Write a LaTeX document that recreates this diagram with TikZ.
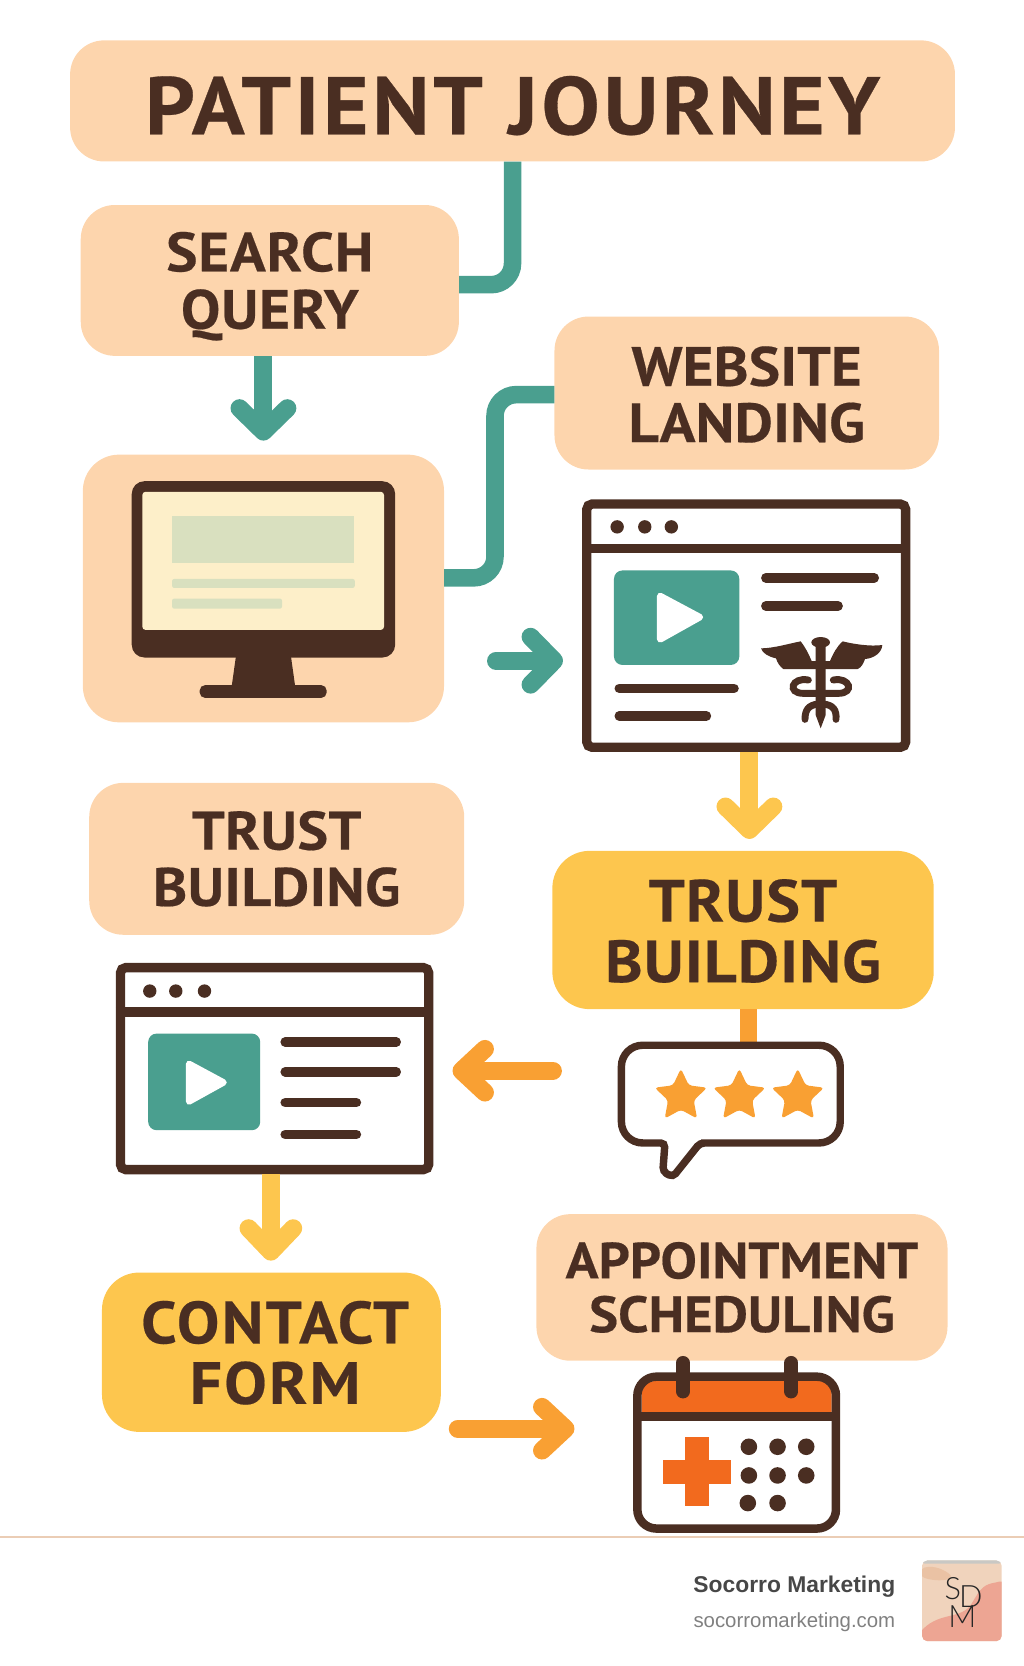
\documentclass[tikz,border=0pt]{standalone}
\usepackage{fontspec}
\setmainfont{PT Sans}
\newfontfamily\footfont{Liberation Sans}
\newfontfamily\logofont{Lato Light}
\usetikzlibrary{arrows.meta}
\usetikzlibrary{shapes.geometric}
\definecolor{peach}{HTML}{FDD5AD}
\definecolor{ink}{HTML}{4A2E22}
\definecolor{tealc}{HTML}{4A9F8F}
\definecolor{gold}{HTML}{FDC64E}
\definecolor{amber}{HTML}{F9A033}
\definecolor{flame}{HTML}{F26A1E}
\definecolor{cream}{HTML}{FDEFC9}
\definecolor{sage}{HTML}{D9E0BF}
\definecolor{rulec}{HTML}{EBCDB5}
\definecolor{washA}{HTML}{F0D3BC}
\definecolor{washB}{HTML}{EDA593}
\definecolor{washC}{HTML}{B9C4C8}
\definecolor{washD}{HTML}{E9BE9E}
\newcommand{\lift}[1]{\rule{0pt}{#1pt}}
\begin{document}
\begin{tikzpicture}[
    x=1pt, y=-1pt,
    stepbox/.style={
        fill=peach,
        rounded corners=32pt,
        inner sep=0pt,
        align=center,
        text=ink
    },
    boxtext/.style n args={3}{font=\bfseries\fontsize{#1}{#2}\selectfont\addfontfeatures{LetterSpace=#3,FakeStretch=1.07,FakeBold=0.35}},
    goldbox/.style={stepbox, fill=gold},
    pagebox/.style={draw=ink, line width=8.8pt, fill=white, rounded corners=5pt, inner sep=0pt},
    pipe/.style={line width=16.5pt, rounded corners=20pt},
    flow/.style={line width=17pt, -{Straight Barb[round,length=22pt,width=#1pt]}},
    flow/.default=45,
    textbar/.style={ink, line width=9pt, line cap=round},
    dot/.style={fill=ink, circle, inner sep=0pt, minimum size=12.6pt},
    calDot/.style={fill=ink, circle, inner sep=0pt, minimum size=15.6pt},
    starmark/.style={star, star points=5, star point ratio=2.05, fill=amber, inner sep=0pt, minimum size=52pt, rounded corners=3pt}
]
\useasboundingbox (0,0) rectangle (964,1568.4);

% boxes
\node[stepbox, boxtext={77}{78}{4.3}, minimum width=833pt, minimum height=114pt] (title) at (482.5,95) {\lift{64}PATIENT JOURNEY};
\node[stepbox, boxtext={52}{54}{1.5}, minimum width=356pt, minimum height=142pt] (search) at (254,264) {\lift{48}SEARCH\\QUERY};
\node[stepbox, rounded corners=34pt, minimum width=340pt, minimum height=252pt] (monitorbox) at (248,554) {};
\node[stepbox, boxtext={52}{53}{0.3}, minimum width=362pt, minimum height=144pt] (website) at (703,370) {\lift{40}WEBSITE\\LANDING};
\node[stepbox, boxtext={51}{53}{0.8}, minimum width=353pt, minimum height=143pt] (trustpeach) at (260.5,808.5) {TRUST\\BUILDING};
\node[goldbox, boxtext={56}{57}{1.8}, rounded corners=35pt, minimum width=359pt, minimum height=149pt] (trustgold) at (699.5,875.5) {\lift{42}TRUST\\BUILDING};
\node[goldbox, boxtext={56}{57}{3.7}, rounded corners=35pt, minimum width=319pt, minimum height=150pt] (contact) at (255.5,1273) {\lift{41}\hspace*{7pt}CONTACT\\\hspace*{7pt}FORM};
\node[stepbox, boxtext={48}{50.6}{0}, minimum width=387pt, minimum height=138pt] (appoint) at (698.5,1212) {APPOINTMENT\\SCHEDULING};

% connectors
\coordinate (riser) at (466,458);
\coordinate (tealstart) at (467,622);
\coordinate (amberstart) at (520.5,1008);
\coordinate (formstart) at (431,1345);
\node[pagebox, minimum width=300.2pt, minimum height=229pt] (browserA) at (702.5,589) {};
\node[pagebox, minimum width=290.2pt, minimum height=190.2pt] (browserB) at (258.5,1006) {};
\node[fill=white, rounded corners=18pt, inner sep=0pt, minimum width=187pt, minimum height=143pt] (calendar) at (693.5,1367.5) {};
\draw[tealc, pipe] (title.south) |- ([yshift=-4pt]search.east);
\draw[tealc, pipe] ([yshift=10pt]monitorbox.east) -| (riser) |- ([yshift=-1.5pt]website.west);
\draw[tealc, flow, shorten >=13pt] (monitorbox.north |- search.south) -- (monitorbox.north);
\draw[tealc, flow, line cap=round, shorten >=18pt] (tealstart) -- (tealstart -| browserA.west);
\draw[gold, flow, shorten >=11pt] ([xshift=3pt]browserA.south) -- ([xshift=3pt]browserA.south |- trustgold.north);
\draw[amber, line width=16.5pt] ([xshift=5pt]trustgold.south) -- ([xshift=5pt]trustgold.south |- 0,984);
\draw[amber, flow=41, line cap=round, shorten >=18pt] (amberstart) -- (amberstart -| browserB.east);
\draw[gold, flow=42, shorten >=11pt] ([xshift=-3.5pt]browserB.south) -- ([xshift=-3.5pt]browserB.south |- contact.north);
\draw[amber, flow=41, line cap=round, shorten >=59pt] (formstart) -- (formstart -| calendar.west);

% monitor
\fill[ink, rounded corners=12pt] (124,453) rectangle (372,619);
\fill[ink] (222.5,615) -- (273.5,615) -- (278,647) -- (218,647) -- cycle;
\fill[ink, rounded corners=5pt] (188,645) rectangle (307.5,657);
\fill[cream, rounded corners=3pt] (134,463) rectangle (361.5,593);
\fill[sage] (162,486) rectangle (333,530);
\fill[sage, rounded corners=2pt] (162,545) rectangle (334,553.5);
\fill[sage, rounded corners=2pt] (162,563.5) rectangle (265.5,573);

% first page
\draw[ink, line width=8.8pt] (browserA.west |- 0,516.5) -- (browserA.east |- 0,516.5);
\node[dot] (dotA) at (581,496) {};
\node[dot] (dotB) at (607,496) {};
\node[dot] (dotC) at (632,496) {};
\fill[tealc, rounded corners=8pt] (578,537) rectangle (696,626);
\fill[white, draw=white, line width=6pt, line join=round] (621.5,561) -- (659,581) -- (621.5,602) -- cycle;
\draw[textbar] (721,544) -- (823,544);
\draw[textbar] (721,570.5) -- (789,570.5);
\draw[textbar] (583,648) -- (691,648);
\draw[textbar] (583,674) -- (665,674);
\begin{scope}[shift={(527.2,451.9)}, x=0.3138pt, y=-0.3138pt]
\fill[ink] (603,505) .. controls (640,505) and (690,490) .. (722,484) .. controls (735,500) and (745,520) .. (755,543) -- (810,543) .. controls (820,520) and (830,500) .. (848,484) .. controls (880,492) and (930,500) .. (967,495) .. controls (965,520) and (940,535) .. (915,537) .. controls (910,550) and (905,562) .. (893,567) -- (670,567) .. controls (660,560) and (652,548) .. (648,535) .. controls (625,530) and (608,520) .. (603,505) -- cycle;
\fill[ink] (782,487) ellipse [x radius=28, y radius=16];
\fill[ink] (767,495) -- (797,495) -- (797,705) -- (782,745) -- (767,705) -- cycle;
\draw[ink, line width=6.5pt, line cap=round] (745,600) .. controls (695,590) and (680,640) .. (730,640) -- (770,640);
\draw[ink, line width=6.5pt, line cap=round] (820,600) .. controls (870,590) and (885,640) .. (835,640) -- (795,640);
\draw[ink, line width=6.5pt, line cap=round] (775,672) .. controls (745,675) and (735,690) .. (735,718);
\draw[ink, line width=6.5pt, line cap=round] (790,672) .. controls (820,675) and (830,690) .. (828,718);
\end{scope}

% speech bubble
\draw[ink, line width=7pt, fill=white, rounded corners=20pt] (680,984) -- (791,984) -- (791,1076) -- (680,1076) [rounded corners=4pt] -- (659,1076) -- (633.5,1108) -- (624,1103) -- (626,1076) -- (612,1076) [rounded corners=20pt] -- (585,1076) -- (585,984) -- cycle;
\node[starmark] (starA) at (641,1032) {};
\node[starmark] (starB) at (696,1032) {};
\node[starmark] (starC) at (751,1032) {};

% second page
\draw[ink, line width=8.8pt] (browserB.west |- 0,952.7) -- (browserB.east |- 0,952.7);
\node[dot] (dotD) at (141,933) {};
\node[dot] (dotE) at (165.5,933) {};
\node[dot] (dotF) at (192.5,933) {};
\fill[tealc, rounded corners=8pt] (139.5,973) rectangle (245,1064);
\fill[white, draw=white, line width=6pt, line join=round] (178,1001.5) -- (210.5,1019) -- (178,1037) -- cycle;
\draw[textbar] (268.5,981) -- (373,981);
\draw[textbar] (268.5,1009) -- (373,1009);
\draw[textbar] (268.5,1038) -- (335.5,1038);
\draw[textbar] (268.5,1068) -- (335.5,1068);

% calendar
\fill[flame] (604,1331) -- (604,1314) .. controls (604,1304) and (610,1300) .. (618,1300) -- (769,1300) .. controls (777,1300) and (783,1304) .. (783,1314) -- (783,1331) -- cycle;
\draw[ink, line width=8pt, rounded corners=18pt] (600,1296) rectangle (787,1439);
\draw[ink, line width=8pt] (600,1333.5) -- (787,1333.5);
\draw[ink, line width=13pt, line cap=round] (643,1283) -- (643,1310);
\draw[ink, line width=13pt, line cap=round] (745,1283) -- (745,1310);
\fill[flame] (624,1374) rectangle (688,1397);
\fill[flame] (645,1353) rectangle (667,1418);
\node[calDot] (calA) at (705,1362) {};
\node[calDot] (calB) at (732,1362) {};
\node[calDot] (calC) at (759,1362) {};
\node[calDot] (calD) at (705,1389) {};
\node[calDot] (calE) at (732,1389) {};
\node[calDot] (calF) at (759,1389) {};
\node[calDot] (calG) at (704,1415) {};
\node[calDot] (calH) at (732,1415) {};

% footer
\draw[rulec, line width=2.6pt] (0,1447) -- (964,1447);
\node[anchor=east, inner sep=0pt, text=black!72, font=\footfont\bfseries\fontsize{21.5}{24}\selectfont] (brand) at (843,1494) {Socorro Marketing};
\node[anchor=east, inner sep=0pt, text=black!50, font=\footfont\fontsize{19.2}{22}\selectfont] (site) at (843,1527) {socorromarketing.com};
\node[rounded corners=5pt, inner sep=0pt, minimum width=75pt, minimum height=76pt, path picture={
    \fill[washA] (-40,-40) rectangle (40,40);
    \fill[washC, opacity=0.7] (-40,-40) rectangle (40,-35);
    \fill[washD, opacity=0.8] (-40,-30) .. controls (-25,-34) and (-15,-28) .. (-8,-22) .. controls (-20,-18) and (-32,-20) .. (-40,-24) -- cycle;
    \fill[washB] (-40,30) .. controls (-20,10) and (0,18) .. (12,-2) .. controls (22,-18) and (30,-16) .. (40,-20) -- (40,40) -- (-40,40) -- cycle;
}] (logo) at (905.5,1507) {};
\node[inner sep=0pt, font=\logofont\fontsize{29}{29}\selectfont, text=black!85] (logoS) at (897,1495.5) {S};
\node[inner sep=0pt, font=\logofont\fontsize{29}{29}\selectfont, text=black!85] (logoD) at (914,1503) {D};
\node[inner sep=0pt, font=\logofont\fontsize{29}{29}\selectfont, text=black!85] (logoM) at (906,1522) {M};
\end{tikzpicture}
\end{document}
